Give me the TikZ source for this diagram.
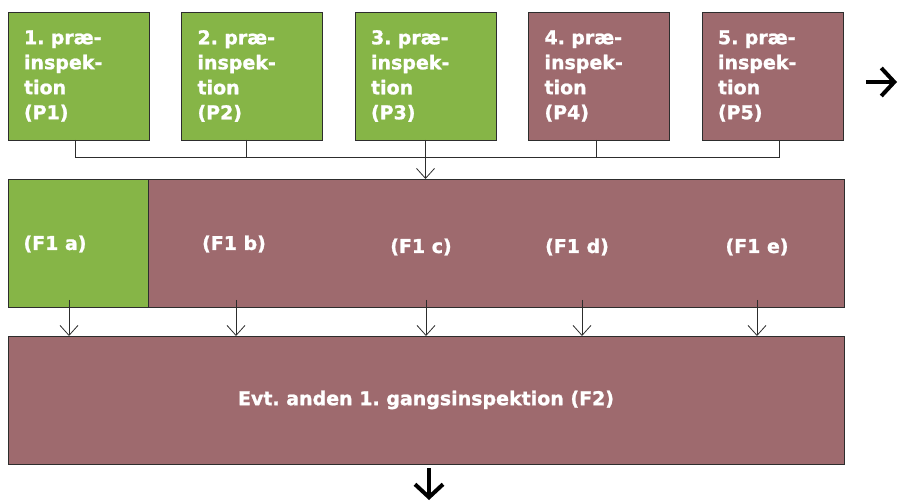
\documentclass[tikz,border=0pt]{standalone}
\usepackage{fontspec}
\setmainfont{DejaVu Sans}[BoldFeatures={FakeBold=1.2}]
\usetikzlibrary{positioning,arrows.meta}
\definecolor{pregreen}{RGB}{134,181,71}
\definecolor{premauve}{RGB}{158,106,110}
\definecolor{edge}{RGB}{45,45,45}
\frenchspacing

\begin{document}
\begin{tikzpicture}[x=1pt, y=-1pt, node distance={32.5pt},
    pre/.style = {draw=edge, line width=0.8pt, minimum width=141pt, minimum height=128pt, text width=109pt, inner xsep=16pt, align=left, text=white, font=\fontsize{19}{25}\selectfont\bfseries, outer sep=0pt},
    bar/.style = {draw=edge, line width=0.8pt, minimum height=128pt, anchor=north west, outer sep=0pt, text=white, font=\fontsize{19}{25}\selectfont\bfseries},
    lbl/.style = {text=white, font=\fontsize{19}{25}\selectfont\bfseries, inner sep=0pt},
    flow/.style = {draw=edge, line width=0.8pt, -{Straight Barb[length=10pt,width=18pt]}},
    big/.style = {line width=4pt, -{Straight Barb[length=13pt,width=28pt]}}]
    \useasboundingbox (0,0) rectangle (899,502);
    % top row
    \node[pre, fill=pregreen, anchor=north west] (p1) at (8,12) {1. præ-\\inspek-\\tion\\(P1)};
    \node[pre, fill=pregreen, right=of p1] (p2) {2. præ-\\inspek-\\tion\\(P2)};
    \node[pre, fill=pregreen, right=of p2] (p3) {3. præ-\\inspek-\\tion\\(P3)};
    \node[pre, fill=premauve, right=of p3] (p4) {4. præ-\\inspek-\\tion\\(P4)};
    \node[pre, fill=premauve, right=of p4] (p5) {5. præ-\\inspek-\\tion\\(P5)};
    \coordinate (r1) at (866,82);
    \coordinate (r2) at (897,82);
    \draw[big] (r1) -- (r2);
    % first inspection
    \node[bar, fill=pregreen, minimum width=140pt] (f1a) at (8,179) {};
    \node[bar, fill=premauve, minimum width=696pt] (f1) at (148,179) {};
    \node[lbl] (la) at (55,244) {(F1 a)};
    \node[lbl] (lb) at (234,244) {(F1 b)};
    \node[lbl] (lc) at (421,247) {(F1 c)};
    \node[lbl] (ld) at (577,247) {(F1 d)};
    \node[lbl] (le) at (757,247) {(F1 e)};
    % second inspection
    \node[bar, fill=premauve, minimum width=836pt] (f2) at (8,336) {Evt. anden 1. gangsinspektion (F2)};
    \coordinate (d1) at (429,468);
    \coordinate (d2) at (429,500);
    \draw[big] (d1) -- (d2);
    % connectors
    \draw[draw=edge, line width=0.8pt] ([xshift=-3pt]p1.south) -- ++(0,17) -| ([xshift=7pt]p5.south);
    \draw[draw=edge, line width=0.8pt] ([xshift=-6pt]p2.south) -- ++(0,17);
    \draw[draw=edge, line width=0.8pt] ([xshift=-3pt]p4.south) -- ++(0,17);
    \draw[flow] (p3.south) -- (p3.south |- f1.north);
    \foreach \x/\n in {69/a,236/b,426/c,582/d,757/e} {
        \coordinate (s\n) at (\x,300);
        \draw[flow] (s\n) -- (s\n |- f2.north);
    }
\end{tikzpicture}
\end{document}
